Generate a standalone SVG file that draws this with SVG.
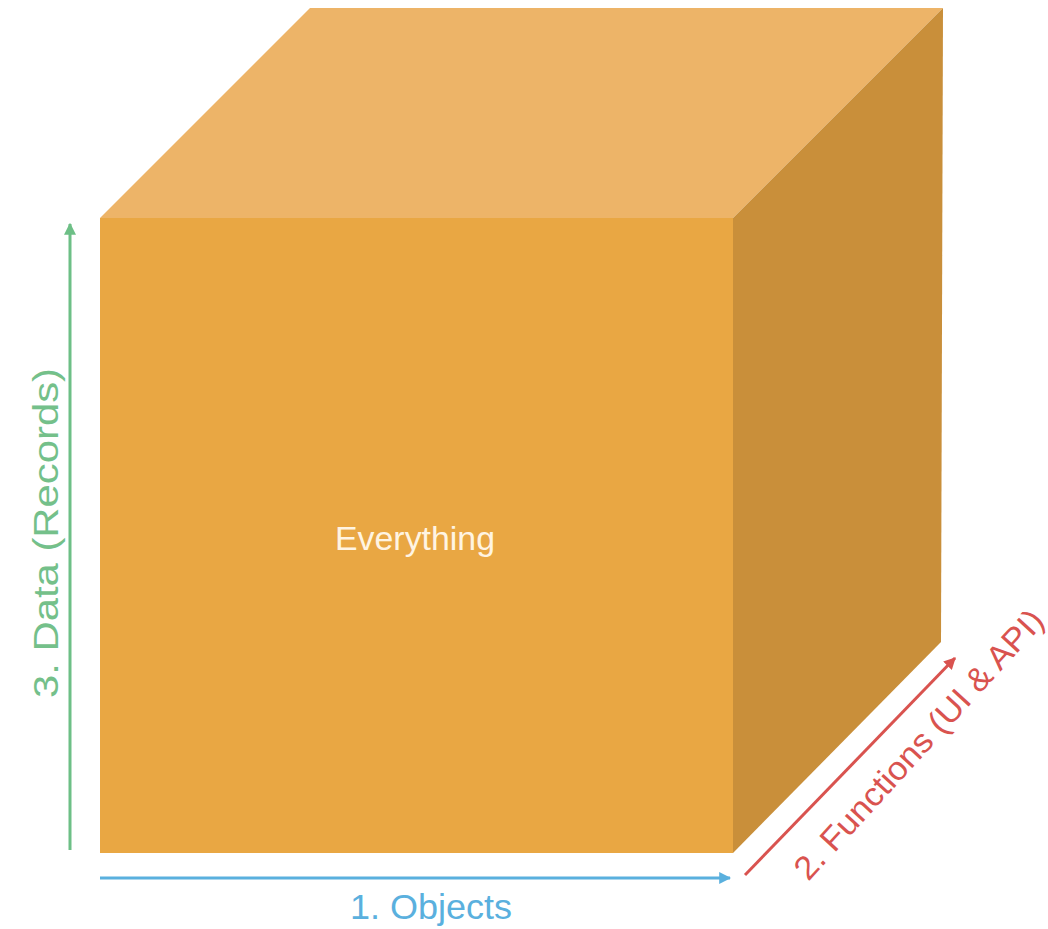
<svg xmlns="http://www.w3.org/2000/svg" width="1048" height="929" viewBox="0 0 1048 929">
<style>
.lbl{font-family:"Liberation Sans",Arial,sans-serif}
</style>
<defs>
<marker id="ag" viewBox="0 0 10 10" refX="9" refY="5" markerWidth="4" markerHeight="4" orient="auto"><path d="M0,0 L10,5 L0,10 z" fill="#6dbf86"/></marker>
<marker id="ab" viewBox="0 0 10 10" refX="9" refY="5" markerWidth="4" markerHeight="4" orient="auto"><path d="M0,0 L10,5 L0,10 z" fill="#5ab0de"/></marker>
<marker id="ar" viewBox="0 0 10 10" refX="9" refY="5" markerWidth="4" markerHeight="4" orient="auto"><path d="M0,0 L10,5 L0,10 z" fill="#d9534f"/></marker>
</defs>
<rect width="1048" height="929" fill="#fff"/>
<g id="cube">
<polygon points="100,218 310,8 943,8 733,218" fill="#edb468"/>
<polygon points="733,218 943,8 941,642 733,853" fill="#c98f3a"/>
<rect x="100" y="218" width="633" height="635" fill="#e9a743"/>
<text class="lbl" x="415" y="550" font-size="33" text-anchor="middle" fill="#fff4e2" textLength="160" lengthAdjust="spacingAndGlyphs">Everything</text>
</g>
<g id="connectors" stroke-width="3" fill="none">
<line x1="70" y1="850" x2="70" y2="224" stroke="#6dbf86" marker-end="url(#ag)"/>
<line x1="100" y1="878" x2="730" y2="878" stroke="#5ab0de" marker-end="url(#ab)"/>
<line x1="745" y1="875" x2="955" y2="658" stroke="#d9534f" marker-end="url(#ar)"/>
</g>
<g id="labels">
<text class="lbl" transform="translate(58,533) rotate(-90)" font-size="35" text-anchor="middle" fill="#74c08a" textLength="330" lengthAdjust="spacingAndGlyphs">3. Data (Records)</text>
<text class="lbl" x="431" y="919" font-size="35" text-anchor="middle" fill="#5ab0de" textLength="162" lengthAdjust="spacingAndGlyphs">1. Objects</text>
<text class="lbl" transform="translate(927,752) rotate(-47.6)" font-size="33" text-anchor="middle" fill="#d9534f" textLength="352" lengthAdjust="spacingAndGlyphs">2. Functions (UI &amp; API)</text>
</g>
</svg>
